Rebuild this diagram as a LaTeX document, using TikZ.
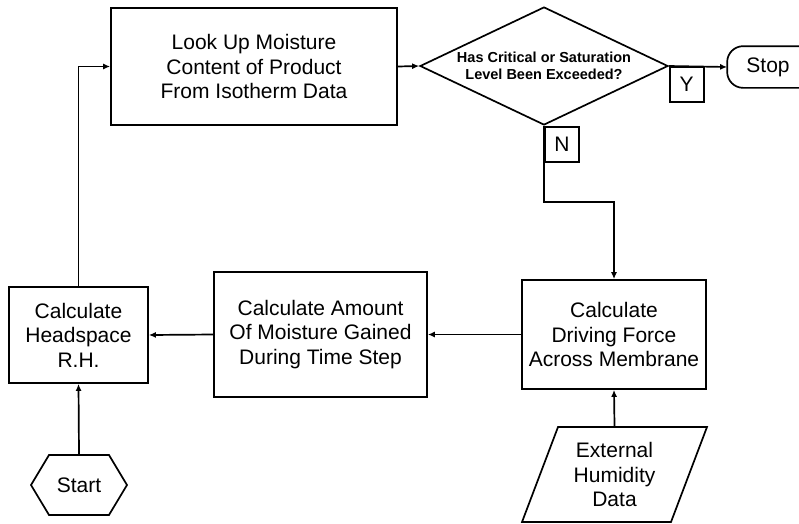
\documentclass[tikz,border=0pt]{standalone}
\usepackage{fontspec}
\setmainfont{Liberation Sans}
\usetikzlibrary{arrows.meta,calc,positioning,shapes.geometric,shapes.symbols}
\newcommand{\bigtxt}{\fontsize{21}{24.5}\selectfont}
\newcommand{\asktxt}{\fontsize{14.5}{17}\selectfont\bfseries}
\begin{document}
\begin{tikzpicture}[x=1pt,y=-1pt,>={Latex[length=7pt,width=6pt]},line width=1.7pt,
  procbox/.style={draw,align=center,inner sep=0pt,font=\bigtxt},
  flagbox/.style={draw,inner sep=0pt,minimum width=34,minimum height=35,font=\bigtxt,anchor=north west}]
\useasboundingbox (0,0) rectangle (799,523);
\clip (0,0) rectangle (799,523);
\node[procbox,minimum width=286,minimum height=117] (lookup) at (254,66.5)
  {Look Up Moisture\\Content of Product\\From Isotherm Data};
\node[draw,diamond,aspect=2.1,inner sep=0pt,minimum width=248,minimum height=118,
  align=center,font=\asktxt] (crit) at (544,66)
  {Has Critical or Saturation\\Level Been Exceeded?};
\node[procbox,draw=none,minimum width=80,minimum height=40] (stop) at (768,67) {Stop};
\draw[rounded corners=16pt] ($(stop.north east)+(40,0)$) -- (stop.north west)
  -- (stop.south west) -- ($(stop.south east)+(40,0)$);
\node[flagbox] (yes) at (crit.east) {Y};
\node[flagbox] (no) at (crit.south) {N};
\node[procbox,minimum width=139,minimum height=96] (headsp) at (78.5,335)
  {Calculate\\Headspace\\R.H.};
\node[procbox,minimum width=213,minimum height=125] (gain) at (320.5,334.5)
  {Calculate Amount\\Of Moisture Gained\\During Time Step};
\node[procbox,minimum width=184,minimum height=109] (force) at (614,334.5)
  {Calculate\\Driving Force\\Across Membrane};
\node[draw,trapezium,trapezium left angle=68,trapezium right angle=112,trapezium stretches=true,
  minimum width=185,minimum height=95,inner sep=0pt,align=center,font=\bigtxt] (humid) at (614.5,474.5)
  {External\\Humidity\\Data};
\node[draw,signal,signal to=west and east,signal pointer angle=118,minimum width=96,
  minimum height=60,inner sep=0pt,font=\bigtxt] (start) at (79,485) {Start};
\coordinate (nturn) at (544,202);
% connectors
\draw[->] (start.north) -- (headsp.south);
\draw[->] (headsp.north) |- (lookup.west);
\draw[->] (lookup.east) -- (crit.west);
\draw[->] (crit.east) -- (stop.west);
\draw[->] (crit.south) -- (nturn) -| (force.north);
\draw[->] (force.west) -- (gain.east);
\draw[->] (gain.west) -- (headsp.east);
\draw[->] (humid.north) -- (force.south);
\end{tikzpicture}
\end{document}
